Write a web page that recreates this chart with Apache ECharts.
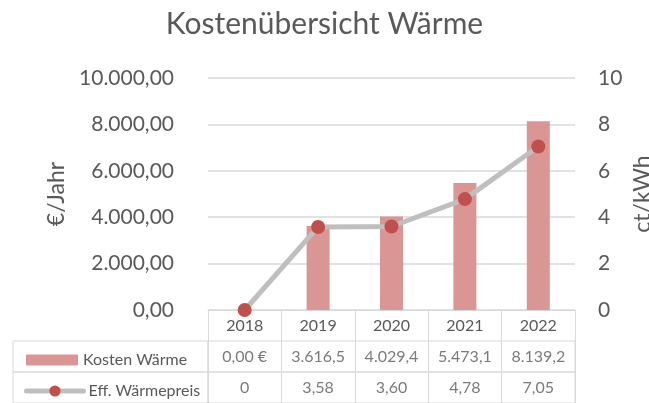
<!DOCTYPE html>
<html>
<head>
<meta charset="utf-8">
<script src="https://cdn.jsdelivr.net/npm/echarts@6/dist/echarts.min.js"></script>
<style>
  html, body { margin: 0; padding: 0; background: #fff; }
  #chart { width: 649px; height: 403px; }
</style>
</head>
<body>
<div id="chart"></div>
<script>
const years = ["2018", "2019", "2020", "2021", "2022"];
const kosten = [0, 3616.5, 4029.4, 5473.1, 8139.2];
const preis = [0, 3.58, 3.6, 4.78, 7.05];
const kostenLabels = ["0,00 €", "3.616,5", "4.029,4", "5.473,1", "8.139,2"];
const preisLabels = ["0", "3,58", "3,60", "4,78", "7,05"];

const FONT = "Lato";
const TEXT = "#595959";
const RULE = "#d9d9d9";

// 10000 -> "10.000,00"
function deNumber(v) {
  const parts = v.toFixed(2).split(".");
  return parts[0].replace(/\B(?=(\d{3})+(?!\d))/g, ".") + "," + parts[1];
}

const chart = echarts.init(document.getElementById("chart"), null, { renderer: "canvas" });

const rowGrid = { left: 208, right: 74, height: 31, show: true, borderColor: RULE, borderWidth: 1, outerBoundsMode: "none" };
const legendCell = { left: 13, width: 195, height: 31, show: true, borderColor: RULE, borderWidth: 1, outerBoundsMode: "none" };
const hiddenCat = { type: "category", data: years, axisLine: { show: false }, axisTick: { show: false }, axisLabel: { show: false } };
const hiddenVal = { type: "value", min: 0, max: 1, show: false };

chart.setOption({
  animation: false,
  textStyle: { fontFamily: FONT },
  title: {
    text: "Kostenübersicht Wärme",
    left: "center",
    top: 4,
    textStyle: { fontFamily: FONT, fontSize: 30, fontWeight: "normal", color: TEXT },
  },
  legend: [
    {
      data: [{ name: "Kosten Wärme", icon: "rect" }],
      left: 21, top: 347,
      itemWidth: 52, itemHeight: 11,
      textStyle: { fontFamily: FONT, fontSize: 16, color: TEXT },
    },
    {
      data: ["Eff. Wärmepreis"],
      left: 19, top: 378,
      itemWidth: 57, itemHeight: 14,
      lineStyle: { width: 5, cap: "round" },
      textStyle: { fontFamily: FONT, fontSize: 16, color: TEXT },
    },
  ],
  grid: [
    { left: 208, right: 74, top: 78, bottom: 93, outerBoundsMode: "none" },
    Object.assign({ top: 341 }, rowGrid),
    Object.assign({ top: 372 }, rowGrid),
    Object.assign({ top: 341 }, legendCell),
    Object.assign({ top: 372 }, legendCell),
  ],
  xAxis: [
    {
      type: "category",
      data: years,
      gridIndex: 0,
      axisLine: { lineStyle: { color: RULE, width: 1 } },
      axisTick: { show: true, length: 31, lineStyle: { color: RULE } },
      axisLabel: { color: TEXT, fontFamily: FONT, fontSize: 16, margin: 8 },
    },
    Object.assign({ gridIndex: 1, splitLine: { show: true, lineStyle: { color: RULE } } }, hiddenCat),
    Object.assign({ gridIndex: 2, splitLine: { show: true, lineStyle: { color: RULE } } }, hiddenCat),
    { type: "value", gridIndex: 3, show: false },
    { type: "value", gridIndex: 4, show: false },
  ],
  yAxis: [
    {
      type: "value",
      gridIndex: 0,
      min: 0, max: 10000, interval: 2000,
      name: "€/Jahr",
      nameLocation: "middle",
      nameGap: 136,
      nameRotate: 90,
      nameTextStyle: { color: TEXT, fontFamily: FONT, fontSize: 23 },
      axisLine: { show: false },
      axisTick: { show: false },
      axisLabel: { color: TEXT, fontFamily: FONT, fontSize: 21, margin: 34, formatter: deNumber },
      splitLine: { lineStyle: { color: RULE, width: 1.5 } },
    },
    {
      type: "value",
      gridIndex: 0,
      position: "right",
      min: 0, max: 10, interval: 2,
      name: "ct/kWh",
      nameLocation: "middle",
      nameGap: 56,
      nameRotate: 90,
      nameMoveOverlap: false,
      nameTextStyle: { color: TEXT, fontFamily: FONT, fontSize: 23 },
      axisLine: { show: false },
      axisTick: { show: false },
      axisLabel: { color: TEXT, fontFamily: FONT, fontSize: 21, margin: 23 },
      splitLine: { show: false },
    },
    Object.assign({ gridIndex: 1 }, hiddenVal),
    Object.assign({ gridIndex: 2 }, hiddenVal),
    Object.assign({ gridIndex: 3 }, hiddenVal),
    Object.assign({ gridIndex: 4 }, hiddenVal),
  ],
  series: [
    {
      name: "Kosten Wärme",
      type: "bar",
      xAxisIndex: 0, yAxisIndex: 0,
      data: kosten,
      barWidth: 23,
      itemStyle: { color: "#d99694" },
    },
    {
      name: "Eff. Wärmepreis",
      type: "line",
      xAxisIndex: 0, yAxisIndex: 1,
      data: preis,
      symbol: "circle",
      symbolSize: 14,
      lineStyle: { color: "#bfbfbf", width: 5 },
      itemStyle: { color: "#c0504d" },
      z: 3,
    },
    {
      type: "scatter",
      xAxisIndex: 1, yAxisIndex: 2,
      data: years.map((y, i) => [i, 0.5]),
      symbolSize: 1,
      itemStyle: { color: "rgba(0,0,0,0)" },
      silent: true,
      label: { show: true, position: "inside", color: TEXT, fontFamily: FONT, fontSize: 16, formatter: p => kostenLabels[p.dataIndex] },
    },
    {
      type: "scatter",
      xAxisIndex: 2, yAxisIndex: 3,
      data: years.map((y, i) => [i, 0.5]),
      symbolSize: 1,
      itemStyle: { color: "rgba(0,0,0,0)" },
      silent: true,
      label: { show: true, position: "inside", color: TEXT, fontFamily: FONT, fontSize: 16, formatter: p => preisLabels[p.dataIndex] },
    },
  ],
});
</script>
</body>
</html>
